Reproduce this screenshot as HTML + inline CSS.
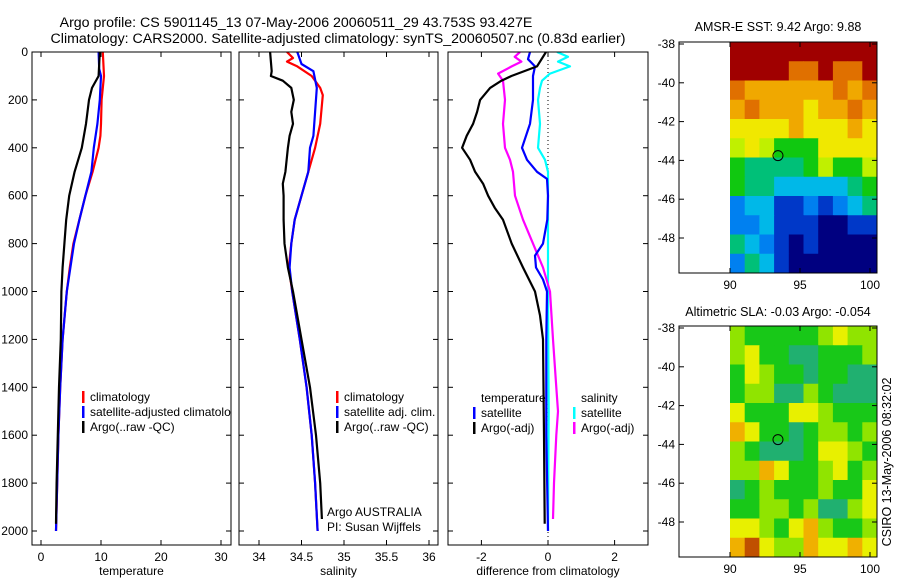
<!DOCTYPE html>
<html><head><meta charset="utf-8"><style>
body{margin:0;background:#fff}
svg{display:block;font-family:"Liberation Sans",sans-serif}
</style></head><body>
<svg id="fig" width="900" height="580" xmlns="http://www.w3.org/2000/svg">
<text x="296" y="27" font-size="14.2" text-anchor="middle">Argo profile: CS 5901145_13 07-May-2006 20060511_29 43.753S 93.427E</text>
<text x="338" y="43" font-size="14.2" text-anchor="middle">Climatology: CARS2000. Satellite-adjusted climatology: synTS_20060507.nc (0.83d earlier)</text>
<text x="778" y="31" font-size="12.5" text-anchor="middle">AMSR-E SST: 9.42 Argo: 9.88</text>
<text x="778" y="316" font-size="12.5" text-anchor="middle">Altimetric SLA: -0.03 Argo: -0.054</text>
<text transform="translate(891,462) rotate(-90)" font-size="12.5" text-anchor="middle">CSIRO 13-May-2006 08:32:02</text>
<text x="327" y="516" font-size="12">Argo AUSTRALIA</text>
<text x="327" y="531" font-size="12">PI: Susan Wijffels</text>
</svg>
<script>
// ---- profile data ----
const depthT=[0,100,200,300,350,400,500,600,700,800,900,1000,1200,1400,1600,1800,2000];
const tempClim=[10.3,10.5,10.1,10.0,9.9,9.6,8.6,7.4,6.4,5.4,4.8,4.3,3.6,3.2,2.9,2.7,2.5];
const depthTS=[0,70,100,200,300,400,500,600,700,800,900,1000,1200,1400,1600,1800,2000];
const tempSat=[9.6,9.7,10.0,9.8,9.4,8.8,8.4,7.4,6.4,5.5,4.9,4.3,3.6,3.2,2.9,2.7,2.5];
const depthTA=[0,100,150,200,300,400,500,600,700,800,900,1000,1200,1400,1600,1800,1970];
const tempArgo=[9.8,9.6,8.5,8.0,7.5,6.8,5.6,4.7,4.2,3.9,3.6,3.4,3.3,3.0,2.8,2.6,2.5];

const depthSC=[0,25,40,60,100,150,180,300,400,500,600,700,800,900,1000,1200,1400,1600,1800,2000];
const salClim=[34.33,34.40,34.33,34.45,34.62,34.72,34.75,34.72,34.66,34.58,34.5,34.42,34.38,34.35,34.39,34.48,34.56,34.62,34.66,34.69];
const depthSS=[0,50,80,150,250,350,400,500,600,700,800,900,1000,1200,1400,1600,1800,2000];
const salSat=[34.45,34.5,34.64,34.68,34.66,34.64,34.6,34.58,34.5,34.42,34.38,34.36,34.39,34.48,34.56,34.62,34.66,34.69];
const depthSA=[0,80,100,120,150,200,250,300,350,400,500,550,600,700,800,900,1000,1200,1400,1600,1800,1950];
const salArgo=[34.13,34.15,34.14,34.28,34.38,34.41,34.38,34.4,34.36,34.34,34.31,34.28,34.29,34.29,34.3,34.34,34.4,34.5,34.6,34.67,34.72,34.74];

const depthDT=[0,60,100,120,150,200,250,300,350,400,450,500,550,600,650,700,800,900,1000,1100,1200,1600,1970];
const diffTArgo=[-0.06,-0.33,-1.1,-1.4,-1.74,-2.04,-2.13,-2.25,-2.44,-2.58,-2.34,-2.19,-1.95,-1.8,-1.6,-1.35,-1.09,-0.75,-0.39,-0.24,-0.15,-0.12,-0.1];
const depthDS=[0,30,60,100,200,300,400,450,500,530,600,700,800,850,900,950,1000,1200,1600,2000];
const diffTSat=[-0.54,-0.6,-0.39,-0.45,-0.45,-0.54,-0.78,-0.63,-0.33,-0.03,0,-0.02,-0.15,-0.39,-0.36,-0.15,-0.03,-0.05,-0.05,0];
const depthDC=[0,20,40,60,90,120,150,200,300,400,450,500,600,1000,1500,2000];
const diffSSat=[0.27,0.6,0.3,0.66,0.06,-0.18,-0.24,-0.3,-0.24,-0.3,-0.09,0,0,0,0.02,0];
const depthDM=[0,20,40,60,90,120,200,300,400,450,500,600,700,800,900,1000,1200,1400,1500,1600,1800,1950];
const diffSArgo=[-0.84,-1.0,-0.8,-1.09,-1.5,-1.35,-1.29,-1.35,-1.29,-1.14,-1.05,-0.99,-0.75,-0.45,-0.15,0.06,0.15,0.25,0.3,0.25,0.18,0.15];

// ---- map data (palette indices) ----
const sstGrid=[
[10,10,10,10,10,10,10,10,10,10],
[10,10,10,10,9,9,10,9,9,10],
[9,8,8,8,8,8,8,9,8,9],
[8,9,8,8,8,7,8,8,9,8],
[7,7,7,7,8,7,7,7,8,7],
[6,7,6,5,5,5,7,7,7,7],
[5,4,4,4,4,5,6,5,5,6],
[5,4,4,3,3,3,3,3,4,5],
[2,3,3,1,1,2,1,2,3,4],
[2,2,3,1,1,1,0,0,1,1],
[4,3,2,1,0,1,0,0,0,0],
[2,4,3,1,0,0,0,0,0,0]];
const sstColors=["#000080","#0038c8","#0080f0","#00b8e8","#00c078","#10c810","#c0f000","#f0e800","#f0a800","#e07000","#a00000"];
const slaGrid=[
[2,1,1,1,1,1,2,3,2,2],
[2,3,1,1,0,0,1,1,1,2],
[1,3,2,1,1,0,1,1,0,0],
[1,2,2,0,0,2,1,0,0,0],
[3,1,1,1,3,3,2,1,1,1],
[4,3,1,1,0,1,2,2,1,2],
[2,1,0,0,0,1,3,3,2,1],
[2,2,4,3,1,1,2,3,1,2],
[0,1,2,1,1,1,2,1,1,3],
[1,1,2,2,1,2,0,0,2,3],
[3,3,2,1,3,4,2,1,1,2],
[4,5,3,2,2,4,3,3,4,3]];
const slaColors=["#20b070","#18c818","#90e400","#e8f000","#f0b000","#c05000"];
const argoLon=93.427, argoLat=-43.753;
const depthTicks=[0,200,400,600,800,1000,1200,1400,1600,1800,2000];
const tTicks=[0,10,20,30], sTicks=[34,34.5,35,35.5,36], dTicks=[-2,0,2];
const latTicks=[-38,-40,-42,-44,-46,-48], lonTicks=[90,95,100];

const svg=document.getElementById('fig');
const NS="http://www.w3.org/2000/svg";
function mk(tag,attrs,parent){const e=document.createElementNS(NS,tag);for(const k in attrs)e.setAttribute(k,attrs[k]);(parent||svg).appendChild(e);return e;}
const PT=52,PB=545;
const yD=d=>PT+0.2395*d;

function panel(name,x0,x1,xs,xticks,xlabel,showY){
  const g=mk('g',{});
  
  
  xticks.forEach(t=>{const x=xs(t);
    mk('line',{x1:x,x2:x,y1:PB,y2:PB-5,stroke:'#000'},g);
    mk('line',{x1:x,x2:x,y1:PT,y2:PT+5,stroke:'#000'},g);
    const tx=mk('text',{x:x,y:PB+16,'font-size':12,'text-anchor':'middle'},g);tx.textContent=t;
    
    
  });
  depthTicks.forEach(d=>{const y=yD(d);
    mk('line',{x1:x0,x2:x0+5,y1:y,y2:y,stroke:'#000'},g);
    mk('line',{x1:x1,x2:x1-5,y1:y,y2:y,stroke:'#000'},g);
    if(showY){const tx=mk('text',{x:x0-4,y:y+4,'font-size':12,'text-anchor':'end'},g);tx.textContent=d;
      
      }
  });
  const lb=mk('text',{x:(x0+x1)/2,y:PB+30,'font-size':12,'text-anchor':'middle'},g);lb.textContent=xlabel;
  
  
  const clip=mk('clipPath',{id:'c'+name},g);mk('rect',{x:x0,y:PT,width:x1-x0,height:PB-PT},clip);
  const inner=mk('g',{'clip-path':'url(#c'+name+')'},g);
  mk('rect',{x:x0,y:PT,width:x1-x0,height:PB-PT,fill:'none',stroke:'#000'},g);
  return inner;
}
function line(g,xs,depths,vals,color,name){
  const p=depths.map((d,i)=>xs(vals[i]).toFixed(1)+','+yD(d).toFixed(1)).join(' ');
  const l=mk('polyline',{points:p,fill:'none',stroke:color,'stroke-width':2.2,'stroke-linejoin':'round'},g);
  
  
}
function legend(g,x,y,items){
  items.forEach((it,i)=>{
    if(it[0])mk('rect',{x:x,y:y+i*15-10,width:2.5,height:12,fill:it[0]},g);
    const t=mk('text',{x:x+8,y:y+i*15,'font-size':12},g);t.textContent=it[1];
    
    
  });
}
const xT=v=>41+6*v, xS=v=>259+85*(v-34), xDf=v=>548+33.3*v;
const g1=panel('temperature-panel',32,231,xT,tTicks,'temperature',true);
line(g1,xT,depthT,tempClim,'#f00','temp-climatology-line');
line(g1,xT,depthTS,tempSat,'#00f','temp-satellite-line');
line(g1,xT,depthTA,tempArgo,'#000','temp-argo-line');
legend(g1,82,401,[['#f00','climatology'],['#00f','satellite-adjusted climatology'],['#000','Argo(..raw -QC)']]);
const g2=panel('salinity-panel',239,438,xS,sTicks,'salinity',false);
line(g2,xS,depthSC,salClim,'#f00','sal-climatology-line');
line(g2,xS,depthSS,salSat,'#00f','sal-satellite-line');
line(g2,xS,depthSA,salArgo,'#000','sal-argo-line');
legend(g2,336,401,[['#f00','climatology'],['#00f','satellite adj. clim.'],['#000','Argo(..raw -QC)']]);
const g3=panel('difference-panel',448,648,xDf,dTicks,'difference from climatology',false);
mk('line',{x1:xDf(0),x2:xDf(0),y1:PT,y2:PB,stroke:'#000','stroke-dasharray':'1,3'},g3);
line(g3,xDf,depthDC,diffSSat,'#0ff','diff-sal-satellite-line');
line(g3,xDf,depthDM,diffSArgo,'#f0f','diff-sal-argo-line');
line(g3,xDf,depthDS,diffTSat,'#00f','diff-temp-satellite-line');
line(g3,xDf,depthDT,diffTArgo,'#000','diff-temp-argo-line');
legend(g3,473,402,[[null,'temperature'],['#00f','satellite'],['#000','Argo(-adj)']]);
legend(g3,573,402,[[null,'salinity'],['#0ff','satellite'],['#f0f','Argo(-adj)']]);

function mapPanel(name,top,bottom,grid,colors){
  const g=mk('g',{});
  
  
  const L=679,R=877,lonX=v=>730+14*(v-90);
  const latY=v=>top+2+(-38-v)*19.4;
  const rows=grid.length,cols=grid[0].length;
  const gx0=lonX(90),gx1=R,gy0=top,gy1=bottom;
  const cw=(gx1-gx0)/cols,ch=(gy1-gy0)/rows;
  grid.forEach((row,r)=>row.forEach((v,c)=>{
    const rc=mk('rect',{x:gx0+c*cw,y:gy0+r*ch,width:cw+0.5,height:ch+0.5,fill:colors[v]},g);
    
    
  }));
  mk('rect',{x:L,y:top,width:R-L,height:bottom-top,fill:'none',stroke:'#000'},g);
  latTicks.forEach(t=>{const y=latY(t);
    mk('line',{x1:L,x2:L+5,y1:y,y2:y,stroke:'#000'},g);
    mk('line',{x1:R,x2:R-5,y1:y,y2:y,stroke:'#000'},g);
    const tx=mk('text',{x:L-4,y:y+4,'font-size':12,'text-anchor':'end'},g);tx.textContent=t;
    
    
  });
  lonTicks.forEach(t=>{const x=lonX(t);
    mk('line',{x1:x,x2:x,y1:bottom,y2:bottom-5,stroke:'#000'},g);
    mk('line',{x1:x,x2:x,y1:top,y2:top+5,stroke:'#000'},g);
    const tx=mk('text',{x:x,y:bottom+16,'font-size':12,'text-anchor':'middle'},g);tx.textContent=t;
    
    
  });
  const c=mk('circle',{cx:lonX(argoLon),cy:latY(argoLat),r:5,fill:'none',stroke:'#000','stroke-width':1},g);
  
  
}
mapPanel('sst-map',42,273,sstGrid,sstColors);
mapPanel('sla-map',326,557,slaGrid,slaColors);
</script>
</body></html>
